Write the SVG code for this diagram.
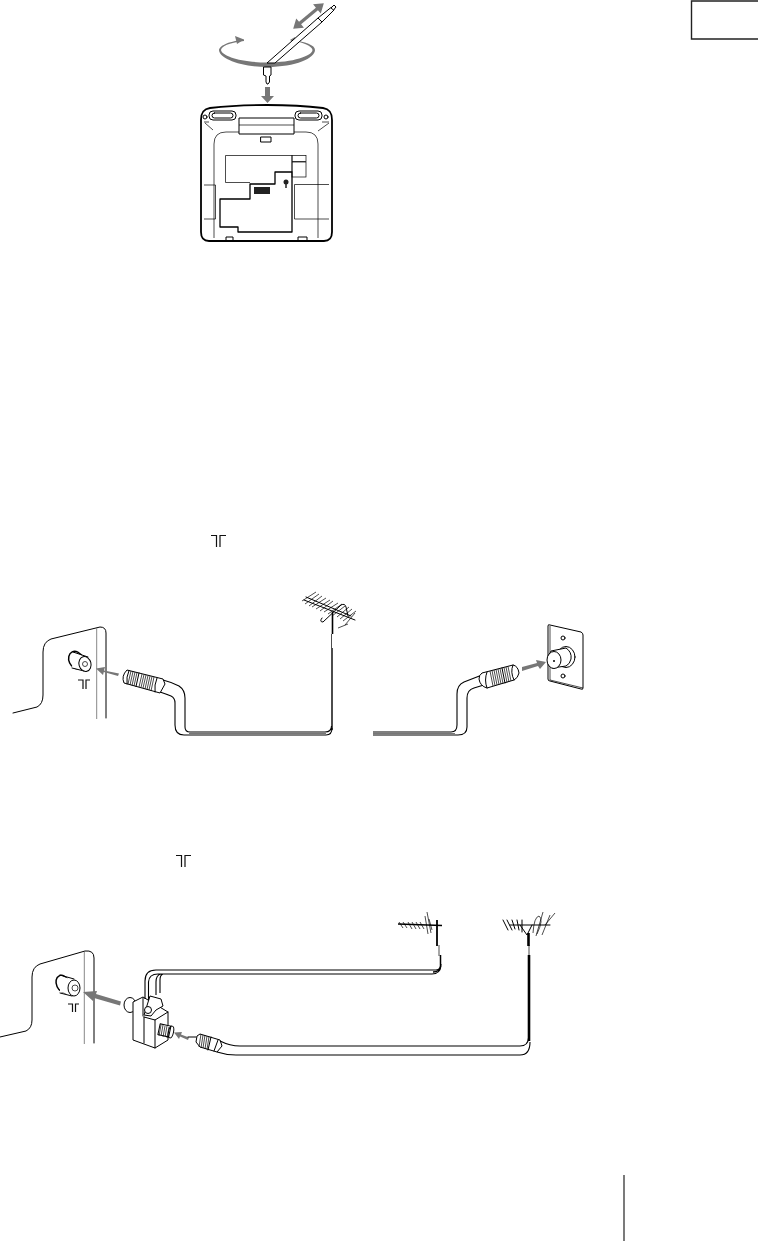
<svg xmlns="http://www.w3.org/2000/svg" width="758" height="1241" viewBox="0 0 758 1241">
<style>
.l{fill:none;stroke:#000;stroke-width:1;stroke-linejoin:round;stroke-linecap:round}
.t{fill:none;stroke:#000;stroke-width:.7}
.h{fill:none;stroke:#000;stroke-width:1.300;stroke-linejoin:round}
.w{fill:#fff;stroke:#000;stroke-width:1;stroke-linejoin:round}
.a{fill:#777;stroke:none}
.s{fill:none;stroke:#111;stroke-width:1.200}
</style>
<rect width="758" height="1241" fill="#fff"/>
<g id="tab"><path d="M758 1H691.500V39H758" fill="none" stroke="#222" stroke-width="1.400"/></g>
<g id="page-rule"><path d="M624 1175V1241" stroke="#222" stroke-width="1.200" fill="none"/></g>

<g id="rod-antenna">
<path class="a" d="M244 39.500C226 42 220 46 219 50C219 58 240 67 267 67C296 67 315 58 315 50C315 45 306 42 290 39.500C304 43 312 46 312.500 50C312 56 293 62.500 267 62.500C241 62.500 222 56 221 50C222 46 228 43 244 41Z"/>
<path class="a" d="M244 39.500L235 36L237 44Z"/>
<path class="a" d="M290 40L295 37L295 43Z"/>
<path class="w" d="M267 63L318 18L322 22L275 63Z"/>
<path class="l" d="M318 18L331 7.500M322 22L334 10"/>
<path class="w" d="M331 8L334 5L336 7L333.500 10Z"/>
<path class="w" d="M263.500 67H271V75L269.500 76V82L268 84H267L266 82V76L263.500 75Z"/>
<path class="a" transform="translate(308.500 16) rotate(-40)" d="M-20 0L-11 -6V-1.600H11V-6L20 0L11 6V1.600H-11V6Z"/>
<path class="a" d="M265 87H270V96H274L267.500 103L261 96H265Z"/>
</g>

<g id="receiver-back">
<path d="M201 120C201 112 204 109 210 108C245 104 290 104 323 108C329 109 332 112 332 120V232C332 238 330 241 324 241H209C203 241 201 238 201 232Z" fill="#fff" stroke="#000" stroke-width="1.800"/>
<path class="t" d="M204 122H209M205 123L213 130M329 122H322M329 123L318 131M214 238V144Q214 132 226 132H239M318 238V144Q318 132 306 132H294"/>
<rect class="w" x="209" y="111" width="27" height="9" rx="4"/><rect class="l" x="212" y="113" width="21" height="5" rx="2.500"/>
<rect class="w" x="295" y="111" width="27" height="9" rx="4"/><rect class="l" x="298" y="113" width="21" height="5" rx="2.500"/>
<circle class="l" cx="205" cy="117" r="2"/><circle class="l" cx="326" cy="117" r="2"/>
<path class="w" d="M239 118H294V134H239Z"/><path class="t" d="M239 125H294"/>
<rect class="l" x="261" y="137" width="10" height="5"/>
<path class="t" d="M225.500 155.500H292V172M225.500 155.500V182.500H250"/>
<rect class="t" x="292" y="155.500" width="14" height="6"/><rect class="t" x="292" y="162" width="14" height="15"/>
<path class="h" d="M250 184H275V172H292V232H238V227H220V199H250Z"/>
<rect x="254" y="187" width="16" height="7" fill="#222"/>
<circle cx="286" cy="182" r="2.500" fill="#222"/><path d="M286 184V188" stroke="#222" stroke-width="1.500"/>
<path class="t" d="M204 185H215.500V219H204"/>
<path class="t" d="M329 184.500H294.500V219H329"/>
<path class="l" d="M226 241V237H233V241M298 241V237H307V241"/>
</g>

<g id="tv-panel-1">
<path class="l" d="M13 713L37 707Q43 704 43 695V652Q43 642 51 639L100 627Q106 627 106 633V718"/>
<path d="M96.700 628V719" stroke="#888" stroke-width="1"/>
<ellipse cx="76" cy="660" rx="7" ry="9" transform="rotate(-25 76 660)" fill="#fff" stroke="#000" stroke-width="1.500"/>
<path class="w" d="M73 653L88 657Q93 662 91 668Q88 671 84 671L72 668Z" style="stroke:none"/>
<path class="l" d="M73 652L88 657M72 668L84 671"/>
<ellipse class="w" cx="85" cy="664" rx="6" ry="7.500" transform="rotate(-15 85 664)"/>
<circle class="t" cx="85" cy="664" r="2.500"/>
<path class="s" d="M78 680H83V689M86 689V680H90"/>
</g>

<g id="symbol-1"><path class="s" d="M211 535.500H216.500V547M220 547V535.500H226"/></g>
<g id="symbol-2"><path class="s" d="M176 855.500H181.500V867M185 867V855.500H191"/></g>

<g id="antenna-1">
<path class="l" d="M304 600L355 620M306 597L351 616"/>
<path class="t" d="M302 601L316 592M305 604L319 594M309 606L322 596M312 607L326 598M316 609L330 600M320 611L333 601M324 612L338 603M328 614L342 604M332 616L345 606M337 617L349 607M340 619L352 609M343 621L356 611M338 628L348 624M345 625L355 613"/>
<path class="l" d="M322 618Q319 622 323 622L341 605Q345 603 346 607L348 616"/>
<path d="M332.500 612V634" stroke="#000" stroke-width="1.600"/>
<path d="M331.500 634V648" stroke="#000" stroke-width=".7"/>
<path d="M332 648V730" stroke="#000" stroke-width="1.400"/>
</g>

<g id="cables-1">
<path d="M163 680Q171 682 179 686Q185 690 185 698V727Q185 732 190 732H325Q331.500 732 331.500 726M160 692Q166 694 171 696Q175 698 175 703V725Q175 735 184 735H326Q332 735 332 728" fill="none" stroke="#000" stroke-width="1.100"/>
<path d="M189 733.500H326" stroke="#777" stroke-width="1.200"/>
<path d="M373 732H451Q457 732 457 725V694Q457 685 464 682L482 675M373 735H458Q467 735 467 727V698Q467 690 474 688L487 684" fill="none" stroke="#000" stroke-width="1.100"/>
<path d="M373 733.500H455" stroke="#777" stroke-width="1.200"/>
</g>

<g id="plug-1">
<path class="w" d="M127 670L163 679L165 684L160 693L124 683Q121 676 127 670Z"/>
<path class="t" d="M131 671L128 684M133 671.500L130 685M135 672L132 685.500M137 672.500L134 686M142 674L139 687M144 674.500L141 687.500M146 675L143 688M148 675.500L145 689M150 676L147 689.500M152 676.500L149 690M154 677L151 691"/>
<path class="l" d="M129 670.500Q126 677 127 684M139 673L136 686.500M157 678Q154 685 155 692"/>
<path class="a" d="M119 673.500L104 670.500L105 667L96 668.500L103 675L103.800 672L118 676Z"/>
</g>

<g id="plug-2">
<path class="w" d="M482 673L513 665Q518 666 519 673Q518 678 514 680L487 688Q480 686 479 679Q479 675 482 673Z"/>
<path class="t" d="M490 671L493 686M492 670.500L495 685.500M494 670L497 685M496 669.500L499 684.500M498 669L501 684M500 668.500L503 683.500M504 667.500L507 682.500M506 667L509 682M508 666.500L511 681"/>
<path class="l" d="M502 668L505 683M487 672Q484 680 487 688M513 665Q510 672 514 680"/>
<path class="a" d="M522 667L537 663L536 660L546 662L540 669L538 666L522 671Z"/>
</g>

<g id="wall-plate">
<path class="w" d="M548 626Q548 624 550 625L581 632Q583 633 583 635V688Q583 690 581 689L550 681Q548 681 548 679Z"/>
<path class="t" d="M550 626V680L583 688"/>
<circle class="l" cx="563" cy="638" r="2"/><circle class="l" cx="563" cy="676" r="2"/>
<ellipse class="l" cx="566" cy="657" rx="9" ry="10.500"/>
<path class="w" d="M551 651L566 648Q572 652 571 659Q570 664 566 666L552 668Q546 659 551 651Z"/>
<ellipse class="w" cx="554" cy="660" rx="7" ry="8.500"/>
<circle cx="554" cy="661" r="1" fill="#000"/>
</g>

<g id="tv-panel-2">
<path class="l" d="M0 1037L26 1031Q32 1028 32 1020V977Q32 967 40 964L85 951Q94 950 94 958V1043"/>
<path d="M84.300 952V1044" stroke="#888" stroke-width="1"/>
<ellipse cx="63" cy="984" rx="6.500" ry="9" transform="rotate(-25 63 984)" fill="#fff" stroke="#000" stroke-width="1.500"/>
<path d="M60 976L74 980L80 988L74 995L60 992Z" fill="#fff"/>
<path class="l" d="M60 975L74 979M60 993L72 996"/>
<ellipse class="w" cx="74" cy="988" rx="6" ry="8"/>
<circle class="t" cx="75" cy="988" r="3"/>
<path class="s" d="M68 1004H72.500V1012M75.500 1012V1004H79"/>
<path class="a" d="M121 1001.500L96 994L97 991L83 992L93 1001L94 998L120 1005.500Z"/>
</g>

<g id="splitter">
<ellipse class="w" cx="130" cy="1005" rx="6" ry="7.500"/>
<path class="w" d="M133 1002L143 997L168 1012V1040L155 1048L133 1040Z"/>
<path class="l" d="M144 1017L155 1020L168 1012M155 1020V1048M144 1017V1043M143 998V1016"/>
<path class="w" d="M150 996L161 999L163 1006L156 1010L151 1016L144 1015Z"/>
<circle class="w" cx="148" cy="1010" r="3.500"/>
<rect class="w" x="159" y="1025" width="11" height="11" transform="rotate(12 165 1030)"/>
<path class="t" d="M161 1025L159 1036M163 1025L161 1036M165 1026L163 1037M167 1026L165 1037M169 1027L167 1038"/>
<ellipse class="l" cx="171" cy="1032" rx="2.500" ry="6" transform="rotate(12 171 1032)"/>
<path class="a" d="M189 1037.500L181 1034.500L182 1032L174 1032.500L179 1039L180 1036.500L188 1040Z"/>
</g>

<g id="plug-3">
<path class="l" d="M188 1037L196 1037"/>
<path class="w" d="M200 1034L220 1040L222 1046L217 1052L200 1047L196 1042L197 1036Z"/>
<path class="t" d="M201 1034L199 1047M203 1035L201 1048M205 1035L203 1048M207 1036L205 1049M209 1036.500L207 1049.500"/>
<path class="l" d="M211 1037L208 1050M218 1040L214 1051"/>
</g>

<g id="antennas-2">
<path d="M398 924L442 925.500" stroke="#000" stroke-width="1.500"/>
<path class="t" d="M399 922L403 928M403 922L407 928M408 922L412 929M412 922L416 929M416 922L420 929M420 922L424 929M425 916L428 934M427 912L431 933M429 919L432 930"/>
<path d="M437 920V946" stroke="#000" stroke-width="1.800"/>
<path d="M439 945V956" stroke="#000" stroke-width=".7"/>
<path d="M440.500 955V966Q440 972 433 972" fill="none" stroke="#000" stroke-width="1.500"/>
<path class="l" d="M503 920L508 930M507 920L512 930M512 920L515 929M517 920L519 930M522 920V932M510 925H550M520 925L527 935L532 925"/>
<path class="t" d="M536 936L543 912M542 935L550 915M545 925L555 913"/>
<path class="t" d="M533 933Q534 917 539 916Q544 919 537 934"/>
<path d="M528.500 933V946" stroke="#000" stroke-width="2.600"/>
<path d="M529 945V955" stroke="#000" stroke-width=".7"/>
<path d="M529 955V1041" stroke="#000" stroke-width="2.600"/>
</g>

<g id="cables-2">
<path class="h" style="stroke-width:1.100" d="M145 999V981Q145 970 156 970H436Q441 970 441 964M148.500 1000V982Q149 974 158 974H432Q440 974 441 966M156 995V982Q156 975 161 974M160 993V980Q160 975 163 974"/>
<path d="M220 1041Q230 1046 240 1046H520Q528 1046 528.500 1038M217 1052Q226 1055 236 1055H520Q530 1055 530 1042" fill="none" stroke="#000" stroke-width="1.100"/>
</g>
</svg>
